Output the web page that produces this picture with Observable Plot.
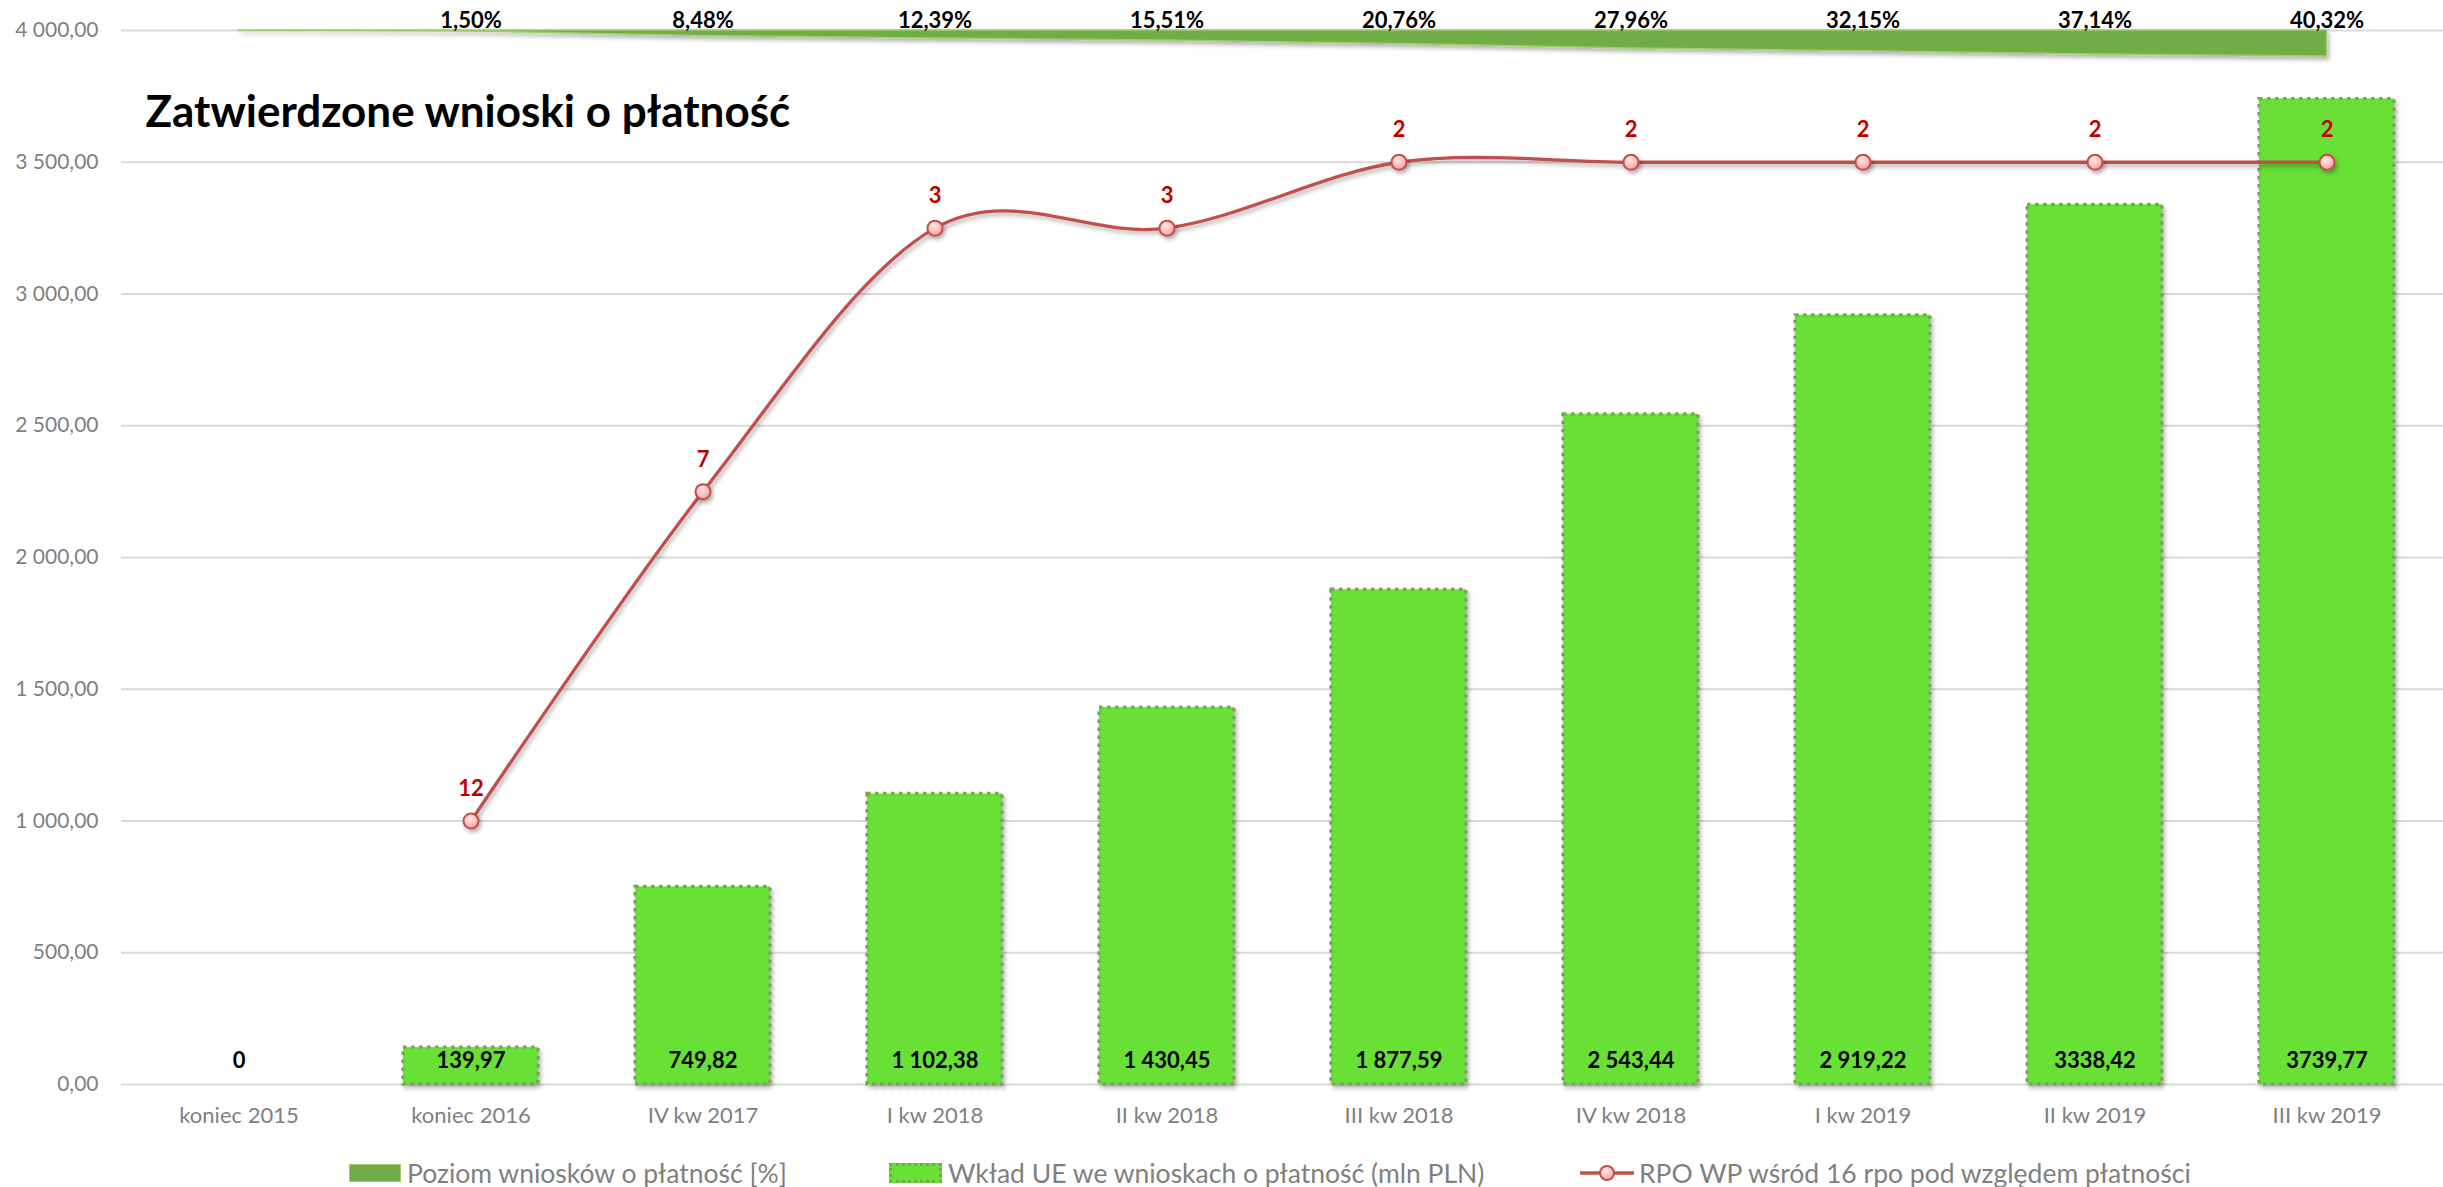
<!DOCTYPE html>
<html><head><meta charset="utf-8">
<script src="https://cdn.jsdelivr.net/npm/d3@7"></script>
<script src="https://cdn.jsdelivr.net/npm/@observablehq/plot@0.6"></script>
<style>
body{margin:0;background:#fff;font-family:Lato,sans-serif;}
#wrap{position:relative;width:2443px;height:1187px;overflow:hidden;background:#fff}
#chart svg{display:block}
#legend{position:relative;height:47px}
.item{position:absolute;top:9px;height:47px;display:flex;align-items:center;font-size:26.5px;color:#7f7f7f;white-space:nowrap}
.sw1{width:50px;height:16px;background:#70ad47;border:1.5px solid #9ccf63;margin-right:6px}
.sw2{width:47px;height:14px;background:#69e036;border:3px dotted #70ad47;margin-right:6px}
</style></head><body>
<div id="wrap"><div id="chart"></div><div id="legend"></div></div>
<script>
const categories = ["koniec 2015","koniec 2016","IV kw 2017","I kw 2018","II kw 2018","III kw 2018","IV kw 2018","I kw 2019","II kw 2019","III kw 2019"];
const euContribution = [0,139.97,749.82,1102.38,1430.45,1877.59,2543.44,2919.22,3338.42,3739.77];
const contributionLabels = ["0","139,97","749,82","1 102,38","1 430,45","1 877,59","2 543,44","2 919,22","3338,42","3739,77"];
const paymentLevel = [0,1.50,8.48,12.39,15.51,20.76,27.96,32.15,37.14,40.32];
const rpoRank = [null,12,7,3,3,2,2,2,2,2];
const yTicks = [0,500,1000,1500,2000,2500,3000,3500,4000];
const seriesNames = ["Poziom wniosków o płatność [%]","Wkład UE we wnioskach o płatność (mln PLN)","RPO WP wśród 16 rpo pod względem płatności"];
const title = "Zatwierdzone wnioski o płatność";

// secondary axes (hidden in the original): rank 16..0 reversed onto 0..4000; percent hanging from the top
const rankToY = r => 4000 * (1 - r / 16);
const pctToY = p => 4000 - p * 2.45;

const plLocale = d3.formatLocale({decimal: ",", thousands: " ", grouping: [3], currency: ["", ""]});
const axisFmt = plLocale.format(",.2f");
const pctFmt = plLocale.format(".2f");

const data = categories.map((c, i) => ({cat: c, eu: euContribution[i], euLabel: contributionLabels[i], pct: paymentLevel[i], rank: rpoRank[i]}));
const ranked = data.filter(d => d.rank != null);

const svg = Plot.plot({
  width: 2443, height: 1140,
  marginLeft: 121, marginRight: 0, marginTop: 30, marginBottom: 56,
  style: {fontFamily: "Lato, sans-serif", background: "#fff", color: "#7f7f7f", overflow: "visible"},
  x: {domain: categories, paddingInner: 0.42, paddingOuter: 0.21, label: null},
  y: {domain: [0, 4000], label: null},
  marks: [
    Plot.ruleY(yTicks, {stroke: "#d9d9d9", strokeWidth: 2}),
    Plot.axisY({ticks: yTicks, tickSize: 0, tickPadding: 23, tickFormat: axisFmt, fontSize: 21, label: null}),
    Plot.axisX({tickSize: 0, tickPadding: 23, fontSize: 22, label: null}),
    Plot.barY(data, {x: "cat", y: "eu", fill: "#69e036", stroke: "#70ad47", strokeWidth: 3.3, strokeDasharray: "3.5,4.5"}),
    Plot.areaY(data, {x: "cat", y1: 4000, y2: d => pctToY(d.pct), fill: "#70ad47", stroke: "#9ccf63", strokeWidth: 1.5}),
    Plot.text(data.filter(d => d.pct > 0), {x: "cat", y: 4000, text: d => pctFmt(d.pct) + "%", dy: -10, fontWeight: "bold", fontSize: 22, fill: "#000"}),
    Plot.line(ranked, {x: "cat", y: d => rankToY(d.rank), stroke: "#c0504d", strokeWidth: 3.3, curve: "cardinal", tension: 0}),
    Plot.dot(ranked, {x: "cat", y: d => rankToY(d.rank), r: 7.5, fill: "url(#pinkGrad)", stroke: "#c0504d", strokeWidth: 2}),
    Plot.text(ranked, {x: "cat", y: d => rankToY(d.rank), text: d => String(d.rank), dy: -32, fontWeight: "bold", fontSize: 22, fill: "#c00000"}),
    Plot.text(data, {x: "cat", y: 0, text: "euLabel", dy: -24, fontWeight: "bold", fontSize: 22, fill: "#000"}),
    Plot.text([title], {frameAnchor: "top-left", dx: 24, dy: 65, textAnchor: "start", fontSize: 44, fontWeight: "bold", fill: "#000"})
  ]
});

const s = d3.select(svg);
const defs = s.insert("defs", ":first-child");
const f = defs.append("filter").attr("id", "shadow").attr("x", "-10%").attr("y", "-10%").attr("width", "130%").attr("height", "150%");
f.append("feDropShadow").attr("dx", 2).attr("dy", 3).attr("stdDeviation", 2).attr("flood-color", "#000").attr("flood-opacity", 0.3);
const grad = defs.append("radialGradient").attr("id", "pinkGrad").attr("cx", "40%").attr("cy", "35%").attr("r", "70%");
grad.append("stop").attr("offset", "0%").attr("stop-color", "#ffe8e8");
grad.append("stop").attr("offset", "100%").attr("stop-color", "#ff9f9f");
s.selectAll('g[aria-label="bar"], g[aria-label="area"], g[aria-label="line"], g[aria-label="dot"]').attr("filter", "url(#shadow)");
document.getElementById("chart").appendChild(svg);

// legend
const legend = document.getElementById("legend");
const lefts = [349, 889, 1579];
seriesNames.forEach((name, i) => {
  const it = document.createElement("div");
  it.className = "item";
  it.style.left = lefts[i] + "px";
  let sw;
  if (i === 0) { sw = document.createElement("div"); sw.className = "sw1"; }
  else if (i === 1) { sw = document.createElement("div"); sw.className = "sw2"; }
  else {
    sw = document.createElementNS("http://www.w3.org/2000/svg", "svg");
    sw.setAttribute("width", 56); sw.setAttribute("height", 20);
    sw.style.marginRight = "4px";
    sw.innerHTML = '<line x1="1" y1="10" x2="55" y2="10" stroke="#c0504d" stroke-width="3.3"/><circle cx="28" cy="10" r="7" fill="url(#pinkGrad)" stroke="#c0504d" stroke-width="2"/>';
  }
  const t = document.createElement("span");
  t.textContent = name;
  it.appendChild(sw); it.appendChild(t);
  legend.appendChild(it);
});
</script>
</body></html>
